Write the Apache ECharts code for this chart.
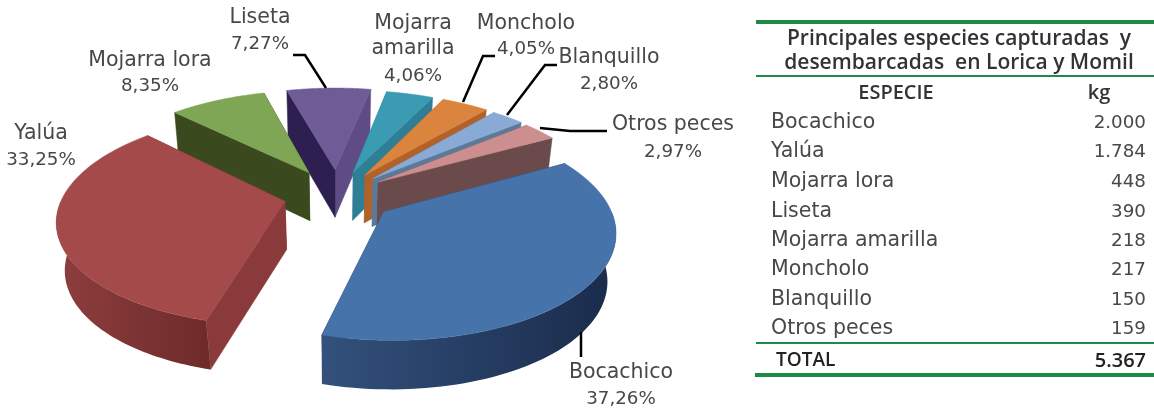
<!DOCTYPE html>
<html><head><meta charset="utf-8">
<style>html,body{margin:0;padding:0;background:#fff}#c{width:1154px;height:411px}</style>
<script src="https://cdn.jsdelivr.net/npm/echarts@6/dist/echarts.min.js"></script></head>
<body><div id="c"></div>
<script>
// ---- data ----
const categories = ['Bocachico','Yalúa','Mojarra lora','Liseta','Mojarra amarilla','Moncholo','Blanquillo','Otros peces'];
const percentages = [37.26,33.25,8.35,7.27,4.06,4.05,2.80,2.97];
const kilograms = [2000,1784,448,390,218,217,150,159];
const totalKilograms = 5367;
const tableTitle = ['Principales especies capturadas  y','desembarcadas  en Lorica y Momil'];
const tableHeader = ['ESPECIE','kg'];
const totalLabel = 'TOTAL';

// ---- styles ----
const topColors  = ['#4673AA','#A44A4A','#7FA655','#6F5B96','#3A9BB3','#DB843D','#8AAAD6','#CC8E8E'];
const rimLeft    = ['#33517C','#8E3E3E','#3A4A1E','#5F4C85','#2E7F95','#B0622A','#5B7A99','#6A4A4A'];
const rimRight   = ['#1A2B4B','#6E2A2A','#3A4A1E','#5F4C85','#2E7F95','#B0622A','#5B7A99','#6A4A4A'];
const wallColors = ['#24395C','#8A3A3A','#3A4A1E','#2D2050','#2E7F95','#B0622A','#5B7A99','#6A4A4A'];
const backWall   = ['#24395C','#7A3030','#3A4A1E','#5F4C85','#2E7F95','#B0622A','#5B7A99','#6A4A4A'];
const explode    = [0.26,0.24,0.26,0.26,0.24,0.24,0.235,0.23];
const view = {cx:337,cy:195,rx:222,ry:102,depth:49,persp:0.16,zp:0.03,start:61};
const labelLayout = [[621,373,399],[41,134,160],[150,61,86],[260,18,44],[413,24,49,76],[526,24,49],[609,58,84],[673,125,152]];
const leaders = [
  [[581,332],[581,357]],
  [[293,55],[305,55],[326,88]],
  [[495,56],[483,56],[463,102]],
  [[557,65],[545,65],[507,115]],
  [[607,131],[570,131],[540,128]]
];

const FONT = '"DejaVu Sans"';
const NAME_FONT = '20.5px '+FONT, NUM_FONT = '18.3px '+FONT;
const total = percentages.reduce((a,b)=>a+b,0);
const rad = d => d*Math.PI/180;
function proj(X,Y,Z){
  const s = 1/(1+view.persp*Y+view.zp*Z);
  return [view.cx+X*view.rx*s, view.cy-Y*view.ry*s+Z*view.depth*Math.pow(s,0.6)];
}
let acc = view.start;
const spans = percentages.map(v=>{const a0=acc; acc+=v/total*360; return [a0,acc];});
const order = spans.map((s,i)=>[i,-Math.cos(rad((s[0]+s[1])/2))]).sort((a,b)=>a[1]-b[1]).map(a=>a[0]);

function renderSlice(params, api){
  const i = params.dataIndex;
  const share = api.value(0)/total*360;
  const a0 = spans[i][0], a1 = a0+share, mid=(a0+a1)/2;
  const ax = explode[i]*Math.sin(rad(mid)), ay = explode[i]*Math.cos(rad(mid));
  const rimAt = (a,z)=>proj(ax+Math.sin(rad(a)),ay+Math.cos(rad(a)),z);
  const z0 = order.indexOf(i)*10;
  const kids=[];
  const poly=(pts,fill,z)=>kids.push({type:'polygon',shape:{points:pts},z2:z0+z,
      style:{fill:fill,stroke:typeof fill==='string'?fill:null,lineWidth:0.5}});
  const a0Front = Math.cos(rad(a0)) < Math.cos(rad(a1));
  poly([proj(ax,ay,0),rimAt(a0,0),rimAt(a0,1),proj(ax,ay,1)],wallColors[i],a0Front?1.5:1);
  poly([proj(ax,ay,0),rimAt(a1,0),rimAt(a1,1),proj(ax,ay,1)],backWall[i],a0Front?1:1.5);
  const lo=Math.max(a0,90), hi=Math.min(a1,270);
  if(hi>lo){
    const up=[],down=[];
    for(let k=0;k<=60;k++){const a=lo+(hi-lo)*k/60; up.push(rimAt(a,0)); down.unshift(rimAt(a,1));}
    poly(up.concat(down),{type:'linear',x:0,y:0,x2:1,y2:0,colorStops:[{offset:0,color:rimLeft[i]},{offset:1,color:rimRight[i]}]},2);
  }
  const top=[proj(ax,ay,0)];
  for(let k=0;k<=60;k++) top.push(rimAt(a0+(a1-a0)*k/60,0));
  poly(top,topColors[i],3);
  return {type:'group',children:kids};
}

const T=[];
const text=(s,x,y,o)=>T.push({type:'text',x:x,y:y,z:10,style:Object.assign({text:s,fill:'#484848',font:NAME_FONT,textAlign:'left',textVerticalAlign:'middle'},o||{})});
const rect=(x,y,w,h)=>T.push({type:'rect',z:10,shape:{x:x,y:y,width:w,height:h},style:{fill:'#1F8A45'}});
// pie labels
categories.forEach((c,i)=>{
  const L=labelLayout[i];
  const pct=percentages[i].toFixed(2).replace('.',',')+'%';
  const parts = L.length===4 ? c.split(' ') : [c];
  parts.forEach((s,k)=>text(s,L[0],L[k+1],{textAlign:'center'}));
  text(pct,L[0],L[parts.length+1],{textAlign:'center',font:NUM_FONT});
});
leaders.forEach(p=>T.push({type:'polyline',z:9,shape:{points:p},style:{stroke:'#000',lineWidth:2.5,fill:null}}));
// table
const fmt=n=>String(n).replace(/\B(?=(\d{3})+$)/g,'.');
const rowY=[123,152,182,212,241,270,300,329];
rect(756,20,398,4); rect(756,75,398,2); rect(756,342,398,2); rect(755,373,399,4);
tableTitle.forEach((s,k)=>text(s,959,[39,63][k],{textAlign:'center',font:'600 21px "Open Sans"',fill:'#333'}));
text(tableHeader[0],896,93,{textAlign:'center',font:'600 20px "Open Sans"',fill:'#333'});
text(tableHeader[1],1099,93,{textAlign:'center',font:'600 20px "Open Sans"',fill:'#333'});
categories.forEach((c,i)=>{text(c,771,rowY[i]);text(fmt(kilograms[i]),1146,rowY[i],{textAlign:'right',font:NUM_FONT});});
text(totalLabel,776,361,{font:'600 19px "Open Sans"',fill:'#222'});
text(fmt(totalKilograms),1146,361,{textAlign:'right',font:'600 20px "Open Sans"',fill:'#222'});

const chart=echarts.init(document.getElementById('c'),null,{renderer:'canvas'});
chart.setOption({animation:false,backgroundColor:'#fff',
  graphic:{elements:T},
  series:[{type:'custom',coordinateSystem:'none',renderItem:renderSlice,
    data:percentages.map((v,i)=>({name:categories[i],value:[v]})),silent:true}]});
</script></body></html>
